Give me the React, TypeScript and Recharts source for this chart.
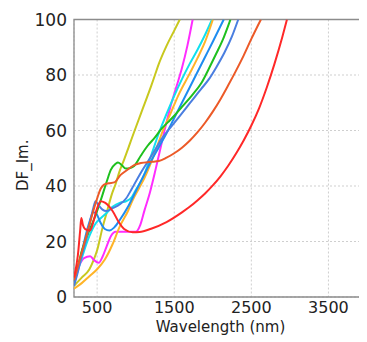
import React from 'react';
import { LineChart, Line, XAxis, YAxis, CartesianGrid, ReferenceArea } from 'recharts';

const WL_TICKS = [500, 1500, 2500, 3500];
const V_TICKS = [0, 20, 40, 60, 80, 100];

const olive: [number, number][] = [[200,4],[300,7],[400,10],[450,13],[502,17],[570,25],[634,31.4],[690,37],[743,41],[787,45],[850,49.5],[900,53.3],[950,57.2],[1000,61],[1100,68.5],[1200,76],[1250,80],[1300,84],[1400,90.5],[1500,96],[1572,100]];
const magenta: [number, number][] = [[200,7],[260,11],[330,14],[410,14.7],[460,13.3],[520,12.3],[570,14.5],[620,18],[680,22],[740,23.5],[1000,23.5],[1060,26],[1116,31.4],[1182,37.4],[1250,45],[1300,51],[1374,60],[1450,68.5],[1520,75],[1600,82.5],[1670,90.5],[1739,100]];
const cyan: [number, number][] = [[200,5],[300,14],[400,22],[480,26.5],[550,28.5],[612,30],[700,32.5],[800,34],[875,34.5],[950,36],[1000,38.5],[1094,43],[1200,51],[1300,59],[1400,66],[1500,72.5],[1600,78.5],[1700,84],[1800,89],[1900,94.5],[1990,100]];
const gold: [number, number][] = [[200,3],[300,5],[400,7.5],[500,10],[600,13.5],[700,19],[787,25],[900,31],[963,35],[1050,39.5],[1116,43],[1200,48.5],[1300,56],[1353,60],[1450,66],[1550,72.5],[1700,80.5],[1800,86],[1900,92],[2001,100]];
const azure: [number, number][] = [[200,5],[250,10],[300,16],[350,22],[400,27],[450,30.5],[490,30],[540,27],[600,24.5],[660,24],[720,25],[800,28],[900,32.5],[1000,38],[1100,43.5],[1200,49],[1300,54],[1400,59],[1500,64.5],[1600,70],[1700,75.5],[1800,81],[1900,86.5],[2000,92],[2142,100]];
const green: [number, number][] = [[200,6],[250,11],[300,16.5],[350,20.5],[400,24],[500,31],[560,36],[629,42],[677,45.8],[740,48],[770,48.5],[820,47.5],[870,46.3],[930,46.5],[980,47.2],[1068,51],[1155,54.5],[1250,57.5],[1331,60.5],[1420,63],[1506,65.5],[1600,68.5],[1725,72.5],[1850,77],[1944,82],[2050,88],[2119,92],[2229,100]];
const blue: [number, number][] = [[200,4],[250,9],[300,15],[350,20],[400,26],[450,32],[480,34.5],[520,33],[570,31.5],[620,31],[700,32],[800,33.5],[875,35.5],[950,39],[1050,44],[1150,48.5],[1250,53],[1350,57.5],[1450,61],[1550,64.5],[1650,68],[1750,71.5],[1850,75],[1950,78.5],[2050,83],[2150,88],[2250,94],[2330,100]];
const orangeRed: [number, number][] = [[200,6],[250,11],[300,16],[350,21],[400,26],[450,31],[500,35.5],[546,39],[590,40.5],[650,41],[722,41.3],[805,44],[875,45.5],[980,47.5],[1068,48.3],[1200,48.7],[1300,49],[1400,50.2],[1500,51.8],[1600,53.8],[1700,56.3],[1800,59.3],[1900,62.8],[2000,66.8],[2100,71.3],[2200,76.3],[2300,81.5],[2400,87],[2500,93],[2624,100]];
const red: [number, number][] = [[200,7],[250,15],[280,24],[295,28.5],[315,26],[345,24.5],[410,24],[450,27],[500,32],[546,34.5],[600,34],[700,31],[780,27],[850,24.5],[960,23.3],[1050,23.4],[1200,24.6],[1400,27],[1600,30.5],[1700,32.5],[1800,34.8],[1900,37.3],[2000,40.2],[2100,43.5],[2200,47.3],[2300,51.6],[2400,56.4],[2500,61.8],[2600,68],[2700,75.5],[2800,84],[2900,93.5],[2962,100]];

const SERIES: { name: string; pts: [number, number][]; color: string }[] = [
  { name: 'olive', pts: olive, color: '#c8c81e' },
  { name: 'magenta', pts: magenta, color: '#ff2cff' },
  { name: 'cyan', pts: cyan, color: '#10e0ee' },
  { name: 'gold', pts: gold, color: '#ffb428' },
  { name: 'azure', pts: azure, color: '#1e8cf0' },
  { name: 'green', pts: green, color: '#1ec01e' },
  { name: 'blue', pts: blue, color: '#4a7ee0' },
  { name: 'orangeRed', pts: orangeRed, color: '#ec5a28' },
  { name: 'red', pts: red, color: '#ff2828' },
];

const toRows = (pts: [number, number][]) => pts.map(([wl, v]) => ({ wl, v }));

const FONT = 'DejaVu Sans, sans-serif';

const YLabel = (props: any) => {
  const vb = props.viewBox || {};
  const cx = vb.x + 9;
  const cy = vb.y + vb.height / 2 + 7;
  return (
    <text x={cx} y={cy} transform={`rotate(-90 ${cx} ${cy})`} textAnchor="middle" dominantBaseline="central"
      fontFamily={FONT} fontSize={15} fill="#222">DF_Im.</text>
  );
};

export default function App() {
  return (
    <LineChart width={359} height={334} margin={{ top: 11.5, right: 0, left: 6, bottom: 5 }}>
      <CartesianGrid stroke="#cfcfcf" strokeDasharray="2 2" />
      <XAxis dataKey="wl" type="number" domain={[200, 4000]} ticks={WL_TICKS} allowDataOverflow
        height={40} axisLine={false} tickLine={false} tickSize={3} tickMargin={2}
        tick={{ fontSize: 16, fontFamily: FONT, fill: '#222' }}
        label={{ value: 'Wavelength (nm)', position: 'insideBottom', offset: 5, style: { fontSize: 15, fontFamily: FONT, fill: '#222' } }} />
      <YAxis type="number" domain={[0, 100]} ticks={V_TICKS} allowDataOverflow width={60}
        axisLine={false} tickLine={false} tickSize={5} tickMargin={2}
        tick={{ fontSize: 17, fontFamily: FONT, fill: '#222' }}
        label={<YLabel />} />
      {SERIES.map((s) => (
        <Line key={s.name} data={toRows(s.pts)} dataKey="v" type="monotone" stroke={s.color}
          strokeWidth={2} dot={false} isAnimationActive={false} />
      ))}
      <ReferenceArea x1={200} x2={4000} y1={0} y2={100} fill="none" stroke="#8c8c8c" strokeWidth={1.3} />
    </LineChart>
  );
}
